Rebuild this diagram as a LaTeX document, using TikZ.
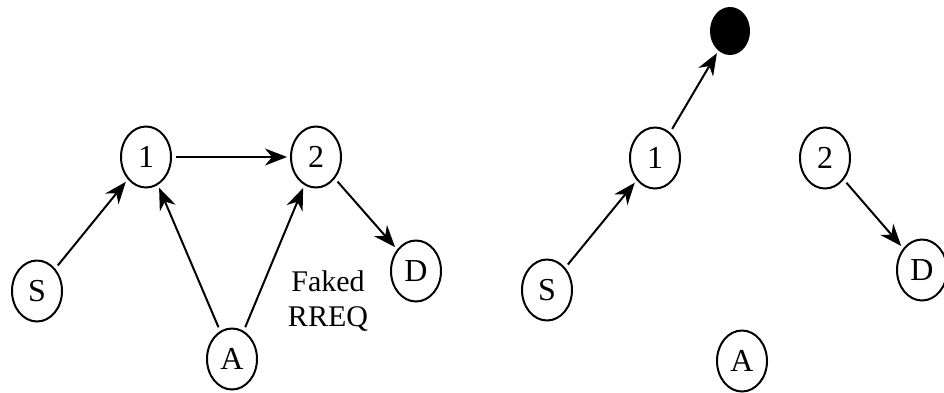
\documentclass[tikz,border=0pt]{standalone}
\usepackage{fontspec}
\setmainfont{Liberation Serif}
\usetikzlibrary{shapes.geometric,arrows.meta}

\begin{document}
\begin{tikzpicture}[
        x                = 1pt,
        y                = -1pt,
        peer/.style      = {ellipse, draw, line width=2pt, inner sep=0pt,
                            minimum width=50pt, minimum height=61pt,
                            font=\fontsize{32}{36}\selectfont},
        attacker/.style  = {ellipse, fill=black, draw, line width=2pt,
                            minimum width=38pt, minimum height=46pt},
        hop/.style       = {line width=2pt, shorten >=3pt, shorten <=4pt,
                            -{Stealth[length=22pt, width=17pt, inset=7pt]}},
      ]
    \useasboundingbox (0,0) rectangle (944,392);

    % left: the faked request
    \node[peer] (lS) at (37,291)  {S};
    \node[peer] (l1) at (146,157) {1};
    \node[peer] (l2) at (316,157) {2};
    \node[peer] (lD) at (416,271) {D};
    \node[peer] (lA) at (232,359) {A};
    \node[align=center, font=\fontsize{30}{35}\selectfont] (fake) at (328,301) {Faked\\RREQ};

    \draw[hop] (lS) -- (l1);
    \draw[hop] (l1) -- (l2);
    \draw[hop] (lA) -- (l1);
    \draw[hop] (lA) -- (l2);
    \draw[hop] (l2) -- (lD);

    % right: route goes to the black hole
    \node[peer]     (rS) at (547,290) {S};
    \node[peer]     (r1) at (655,158) {1};
    \node[attacker] (rX) at (730,31)  {};
    \node[peer]     (r2) at (825,158) {2};
    \node[peer]     (rD) at (922,270) {D};
    \node[peer]     (rA) at (742,361) {A};

    \draw[hop] (rS) -- (r1);
    \draw[hop] (r1) -- (rX);
    \draw[hop] (r2) -- (rD);
\end{tikzpicture}
\end{document}
